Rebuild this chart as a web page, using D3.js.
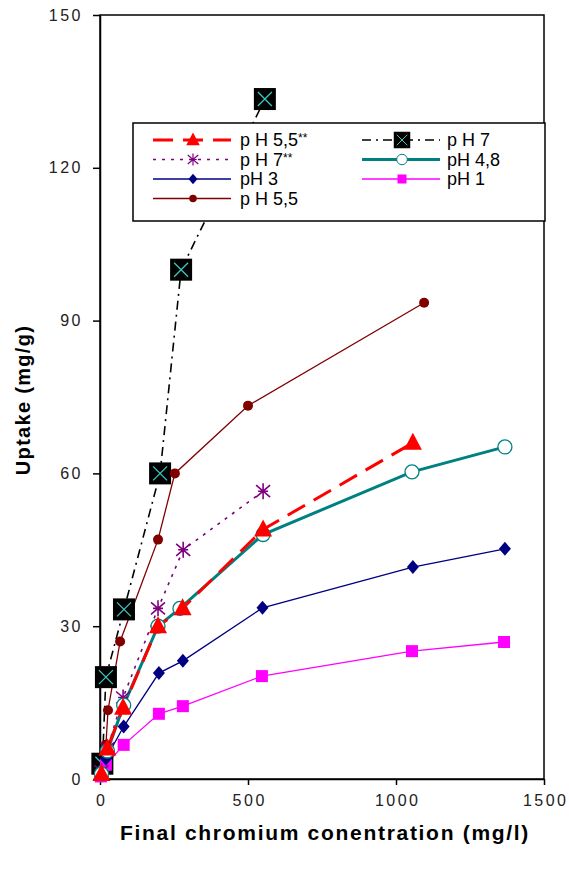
<!DOCTYPE html>
<html>
<head>
<meta charset="utf-8">
<script src="https://cdn.jsdelivr.net/npm/d3@7"></script>
<style>
  body { margin: 0; background: #fff; }
  text { font-family: Arial, "Liberation Sans", sans-serif; }
</style>
</head>
<body>
<div id="chart"></div>
<script>
// series values: [final concentration (mg/l), uptake (mg/g)]
var ph55ss = [[5, 1], [25, 6], [78, 14], [196, 30], [279, 33.5], [551, 49], [1057, 66]];
var ph7 = [[8, 3], [20, 20], [81, 33.3], [203, 60], [274, 100], [557, 133.5]];
var ph7ss = [[5, 1.5], [25, 6], [78, 16], [196, 33.5], [281, 45], [551, 56.5]];
var ph48 = [[5, 1], [25, 5.5], [80, 14.5], [196, 30], [270, 33.5], [551, 48], [1054, 60.3], [1368, 65.2]];
var ph3 = [[3, 1], [20, 4], [80, 10.3], [199, 20.8], [280, 23.2], [549, 33.6], [1057, 41.6], [1368, 45.2]];
var ph1 = [[3, 0.5], [20, 2.8], [80, 6.7], [199, 12.8], [280, 14.3], [547, 20.2], [1054, 25.1], [1365, 26.9]];
var ph55 = [[0, 1], [20, 6.7], [27, 13.5], [68, 27], [196, 47], [253, 60], [500, 73.3], [1095, 93.5]];

var xTicks = [0, 500, 1000, 1500];
var yTicks = [0, 30, 60, 90, 120, 150];

var seriesNames = ["p H 5,5", "p H 7", "pH 3", "p H 5,5", "p H 7", "pH 4,8", "pH 1"];
var seriesMarks = ["**", "**", "", "", "", "", ""];

var svg = d3.select("#chart").append("svg").attr("width", 569).attr("height", 874);

var margin = { top: 15, right: 25, bottom: 95, left: 100 };
var width = 569 - margin.left - margin.right;
var height = 874 - margin.top - margin.bottom;

var x = d3.scaleLinear().domain([0, 1500]).range([0, width]);
var y = d3.scaleLinear().domain([0, 150]).range([height, 0]);

var g = svg.append("g").attr("transform", "translate(" + margin.left + "," + margin.top + ")");

// frame
g.append("rect")
    .attr("width", width).attr("height", height)
    .attr("fill", "none").attr("stroke", "#000").attr("stroke-width", 1.5);

var xAxis = g.append("g")
    .attr("transform", "translate(0," + height + ")")
    .call(d3.axisBottom(x).tickValues(xTicks).tickFormat(d3.format("d")).tickSize(6).tickSizeOuter(0).tickPadding(10));
var yAxis = g.append("g")
    .call(d3.axisLeft(y).tickValues(yTicks).tickFormat(d3.format("d")).tickSize(7).tickSizeOuter(0).tickPadding(10));

[xAxis, yAxis].forEach(function (a) {
    a.select(".domain").attr("stroke", "#000").attr("stroke-width", 1.5);
    a.selectAll(".tick line").attr("stroke", "#000").attr("stroke-width", 1.5);
    a.selectAll("text").attr("font-size", 16).attr("fill", "#222").attr("letter-spacing", 2.5);
});
xAxis.selectAll("text").attr("dx", "1.2");

svg.append("text")
    .attr("x", 325).attr("y", 840)
    .attr("text-anchor", "middle").attr("font-size", 21).attr("font-weight", "bold")
    .attr("letter-spacing", 1.7)
    .text("Final chromium conentration (mg/l)");

svg.append("text")
    .attr("transform", "translate(30,400) rotate(-90)")
    .attr("text-anchor", "middle").attr("font-size", 20).attr("font-weight", "bold")
    .attr("letter-spacing", 1.3)
    .text("Uptake (mg/g)");

var line = d3.line().x(function (d) { return x(d[0]); }).y(function (d) { return y(d[1]); });

// styles per series
var styles = {
    ph55: { color: "#800000", w: 1.3, dash: null, marker: "circle" },
    ph1: { color: "#ff00ff", w: 1.3, dash: null, marker: "square" },
    ph3: { color: "#000080", w: 1.3, dash: null, marker: "diamond" },
    ph48: { color: "#008080", w: 3, dash: null, marker: "open" },
    ph7ss: { color: "#800080", w: 1.6, dash: "3,6", marker: "star" },
    ph55ss: { color: "#ff0000", w: 3, dash: "20,10", marker: "triangle" },
    ph7: { color: "#000", w: 1.6, dash: "9,5,2,5", marker: "xsquare" }
};

function drawMarker(sel, kind, color) {
    if (kind === "circle") {
        sel.append("circle").attr("r", 5).attr("fill", color);
    } else if (kind === "square") {
        sel.append("rect").attr("x", -6).attr("y", -6).attr("width", 12).attr("height", 12).attr("fill", color);
    } else if (kind === "diamond") {
        sel.append("path").attr("d", "M0,-7L6,0L0,7L-6,0Z").attr("fill", color);
    } else if (kind === "open") {
        sel.append("circle").attr("r", 7).attr("fill", "#fff").attr("stroke", color).attr("stroke-width", 1.3);
    } else if (kind === "star") {
        sel.append("path").attr("d", "M0,-8V8M-7,-6L7,6M7,-6L-7,6M-5,0H5")
            .attr("stroke", color).attr("stroke-width", 1.6).attr("fill", "none");
    } else if (kind === "triangle") {
        sel.append("path").attr("d", "M0,-10L9,7L-9,7Z").attr("fill", color);
    } else if (kind === "xsquare") {
        sel.append("rect").attr("x", -11).attr("y", -11).attr("width", 22).attr("height", 22)
            .attr("fill", "#000");
        sel.append("path").attr("d", "M-7,-7L7,7M7,-7L-7,7")
            .attr("stroke", "#3cc8c0").attr("stroke-width", 1.3);
    }
}

var series = [
    { key: "ph7", data: ph7 },
    { key: "ph55", data: ph55 },
    { key: "ph1", data: ph1 },
    { key: "ph3", data: ph3 },
    { key: "ph7ss", data: ph7ss },
    { key: "ph48", data: ph48 },
    { key: "ph55ss", data: ph55ss }
];

series.forEach(function (s) {
    var st = styles[s.key];
    g.append("path")
        .datum(s.data)
        .attr("d", line)
        .attr("fill", "none")
        .attr("stroke", st.color)
        .attr("stroke-width", st.w)
        .attr("stroke-dasharray", st.dash);
});

series.forEach(function (s) {
    var st = styles[s.key];
    g.selectAll(".m-" + s.key)
        .data(s.data)
        .enter().append("g")
        .attr("class", "m-" + s.key)
        .attr("transform", function (d) { return "translate(" + x(d[0]) + "," + y(d[1]) + ")"; })
        .each(function () { drawMarker(d3.select(this), st.marker, st.color); });
});

// legend
var legend = svg.append("g").attr("transform", "translate(133,123)");
legend.append("rect")
    .attr("width", 412).attr("height", 98)
    .attr("fill", "#fff").attr("stroke", "#000").attr("stroke-width", 1.5);

var legendKeys = ["ph55ss", "ph7ss", "ph3", "ph55", "ph7", "ph48", "ph1"];
legendKeys.forEach(function (k, i) {
    var st = styles[k];
    var col = i < 4 ? 0 : 1;
    var row = i < 4 ? i : i - 4;
    var lx = col === 0 ? 20 : 229;
    var ly = 17 + row * 19.5;
    var item = legend.append("g").attr("transform", "translate(" + lx + "," + ly + ")");
    item.append("line")
        .attr("x1", 0).attr("x2", 78)
        .attr("stroke", st.color).attr("stroke-width", st.w)
        .attr("stroke-dasharray", st.dash);
    var m = item.append("g").attr("transform", "translate(40,0) scale(0.75)");
    drawMarker(m, st.marker, st.color);
    var t = item.append("text")
        .attr("x", col === 0 ? 87 : 85).attr("y", 6)
        .attr("font-size", 18).attr("fill", "#000")
        .text(seriesNames[i]);
    if (seriesMarks[i]) {
        t.append("tspan").attr("dy", -4).attr("font-size", 12).text(seriesMarks[i]);
    }
});
</script>
</body>
</html>
